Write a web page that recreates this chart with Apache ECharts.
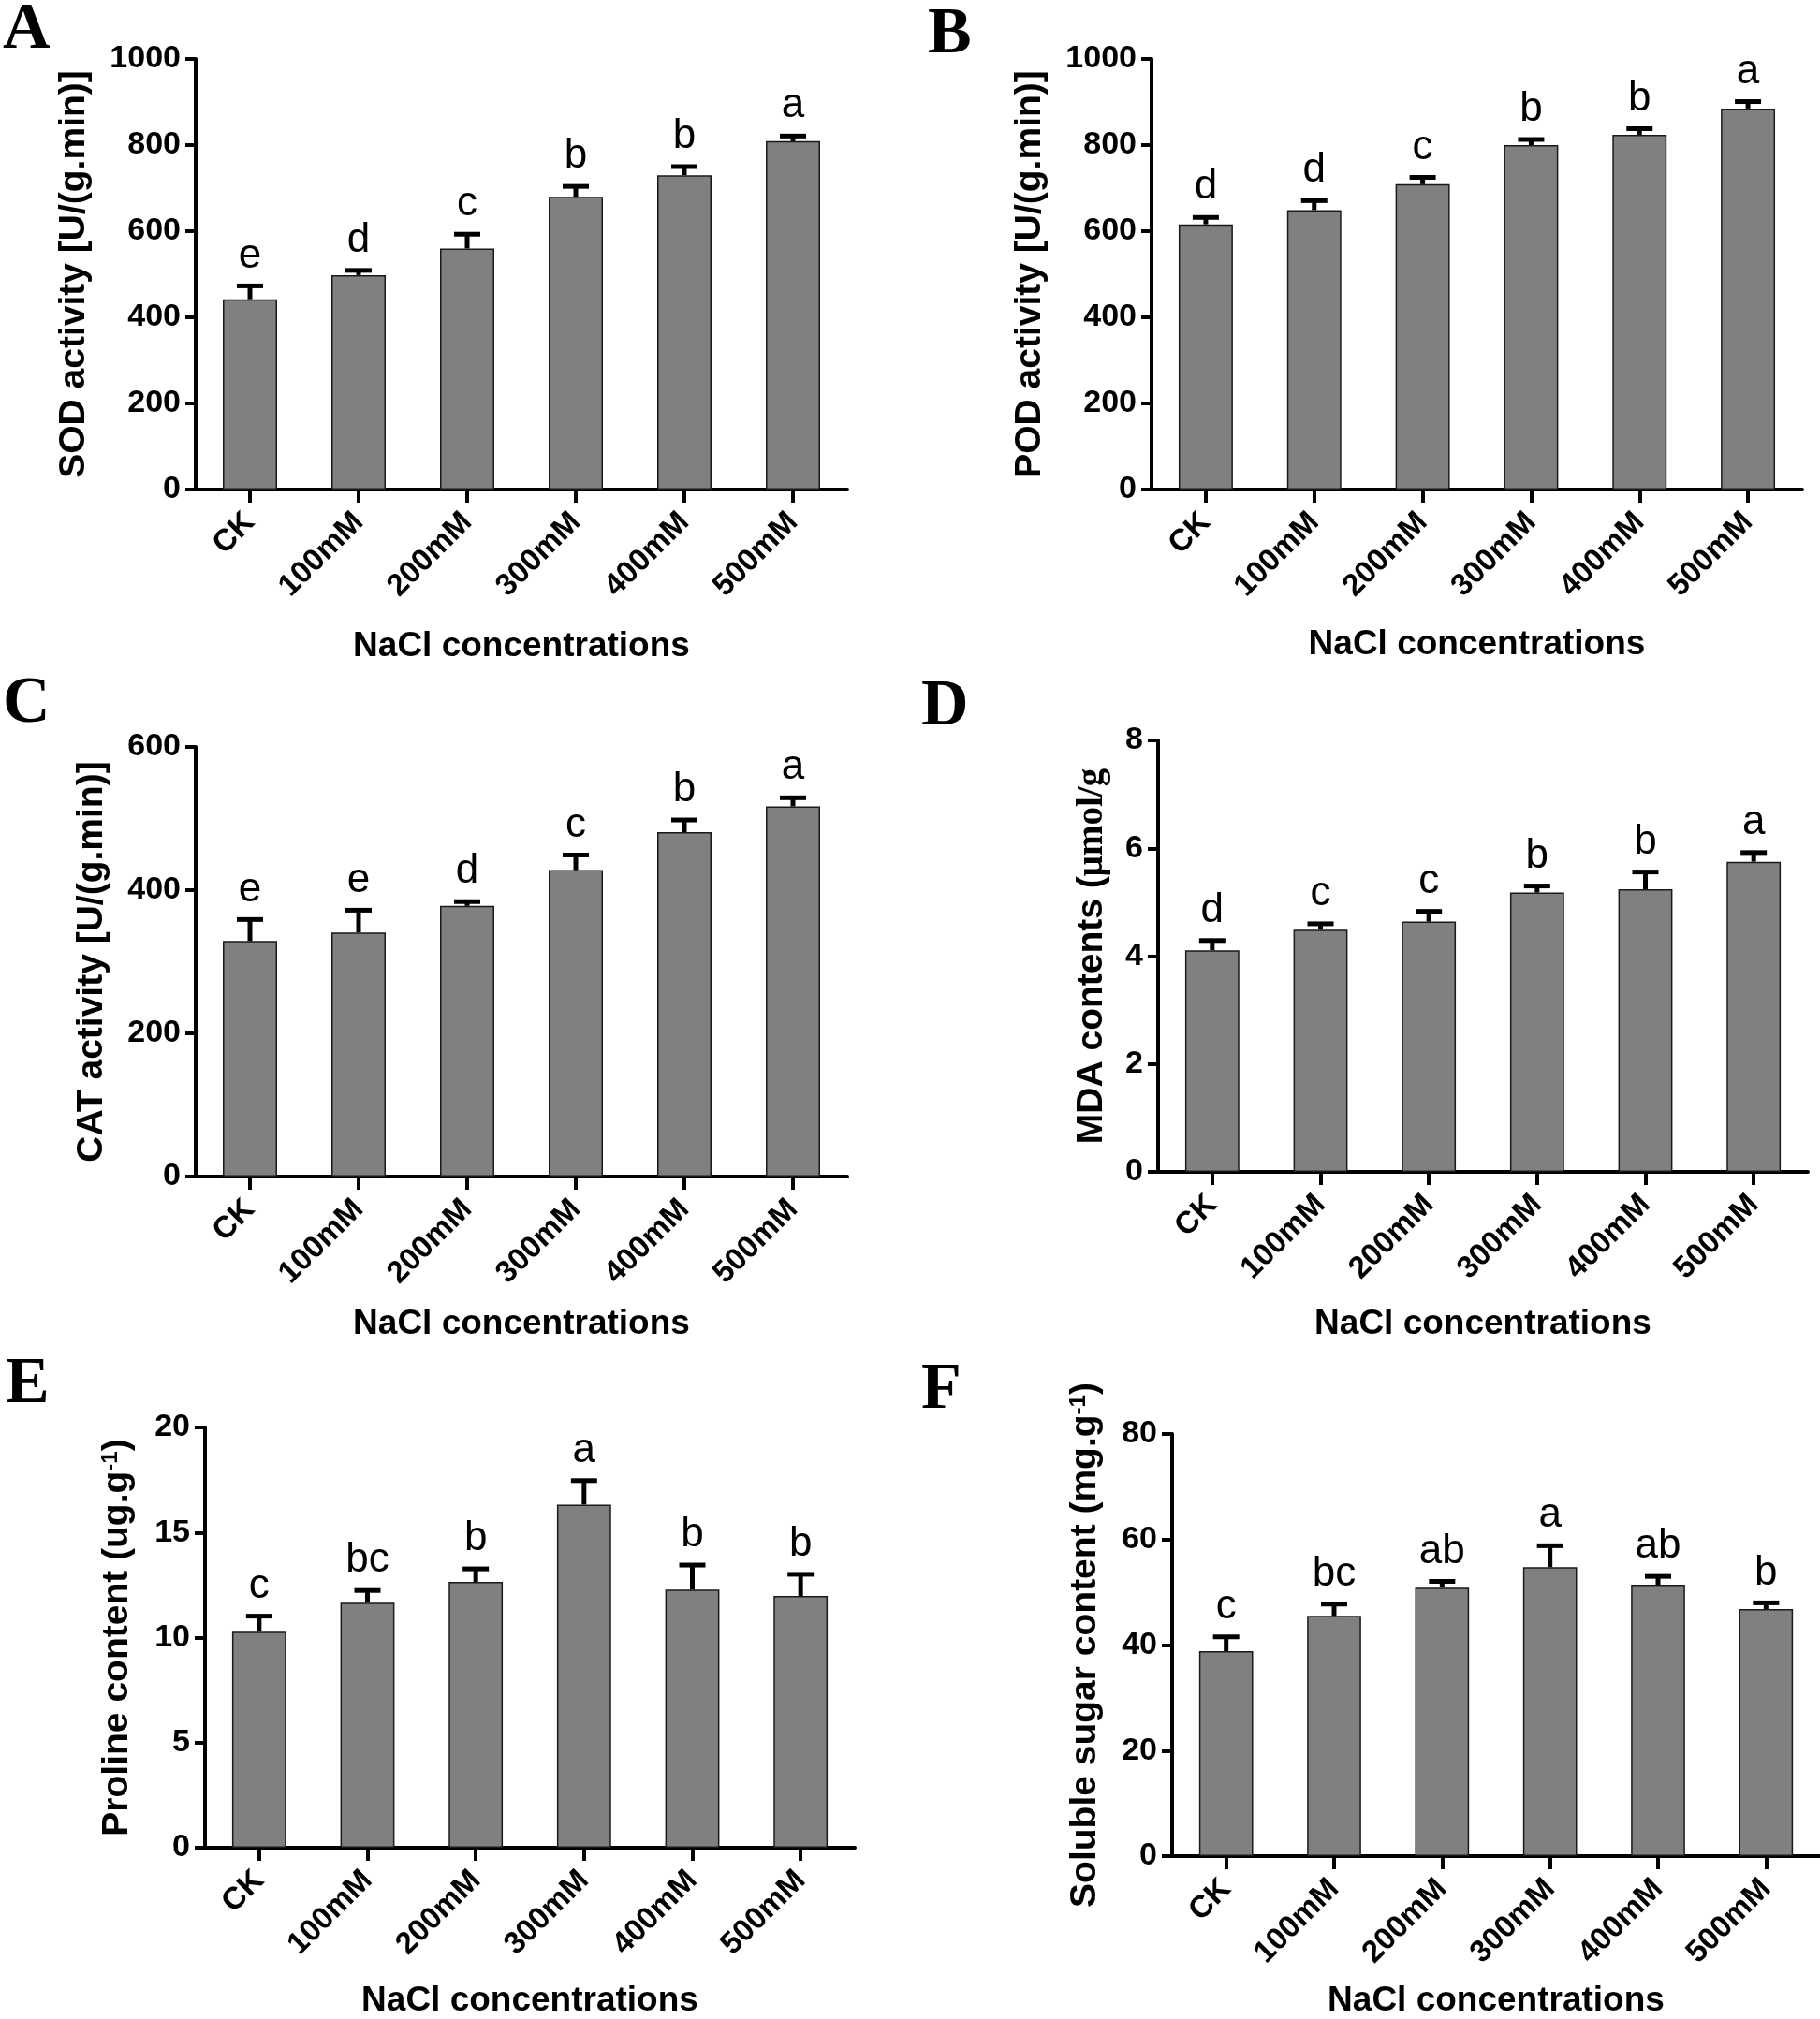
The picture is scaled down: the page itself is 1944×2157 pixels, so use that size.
<!DOCTYPE html>
<html><head><meta charset="utf-8">
<script src="https://cdn.jsdelivr.net/npm/echarts@6/dist/echarts.min.js"></script>
<style>html,body{margin:0;padding:0;background:#fff}#c{width:1944px;height:2157px}</style>
</head><body><div id="c"></div>
<script>
// ---------- data ----------
const categories = ['CK', '100mM', '200mM', '300mM', '400mM', '500mM'];

const sodValues  = [442, 498, 560, 680, 730, 809];
const sodErrors  = [31, 11, 33, 24, 20, 12];
const sodLetters = ['e', 'd', 'c', 'b', 'b', 'a'];

const podValues  = [616, 649, 709, 800, 824, 885];
const podErrors  = [16, 22, 16, 13, 14, 16];
const podLetters = ['d', 'd', 'c', 'b', 'b', 'a'];

const catValues  = [329, 341, 378, 428, 481, 517];
const catErrors  = [30, 31, 6, 21, 17, 12];
const catLetters = ['e', 'e', 'd', 'c', 'b', 'a'];

const mdaValues  = [4.11, 4.49, 4.64, 5.18, 5.24, 5.75];
const mdaErrors  = [0.18, 0.11, 0.19, 0.12, 0.32, 0.17];
const mdaLetters = ['d', 'c', 'c', 'b', 'b', 'a'];

const proValues  = [10.28, 11.66, 12.65, 16.33, 12.28, 11.98];
const proErrors  = [0.74, 0.58, 0.62, 1.14, 1.17, 1.03];
const proLetters = ['c', 'bc', 'b', 'a', 'b', 'b'];

const sugValues  = [38.85, 45.53, 50.87, 54.77, 51.42, 46.81];
const sugErrors  = [2.70, 2.23, 1.19, 4.06, 1.59, 1.19];
const sugLetters = ['c', 'bc', 'ab', 'a', 'ab', 'b'];

const xAxisTitle = 'NaCl concentrations';

// ---------- styling / layout ----------
const SANS = '"Liberation Sans", Arial, Helvetica, sans-serif';
const SERIF = '"Liberation Serif", "Times New Roman", serif';
const NAME_SIZE = 39;

const panels = [
  { tag: 'A', values: sodValues, errors: sodErrors, letters: sodLetters, max: 1000, interval: 200,
    yName: 'SOD activity [U/(g.min)]',
    grid: { left: 209, top: 63, width: 696, height: 460 }, yGap: 110, xGap: 149, tagPos: [3, 33] },
  { tag: 'B', values: podValues, errors: podErrors, letters: podLetters, max: 1000, interval: 200,
    yName: 'POD activity [U/(g.min)]',
    grid: { left: 1230, top: 63, width: 695, height: 460 }, yGap: 110, xGap: 147, tagPos: [991, 38] },
  { tag: 'C', values: catValues, errors: catErrors, letters: catLetters, max: 600, interval: 200,
    yName: 'CAT activity [U/(g.min)]',
    grid: { left: 209, top: 798, width: 696, height: 459 }, yGap: 91, xGap: 139, tagPos: [3, 753] },
  { tag: 'D', values: mdaValues, errors: mdaErrors, letters: mdaLetters, max: 8, interval: 2,
    yName: '{s|MDA contents (}{m|\u03bcmol/g}',
    grid: { left: 1237, top: 791, width: 694, height: 461 }, yGap: 51, xGap: 144, tagPos: [984, 756] },
  { tag: 'E', values: proValues, errors: proErrors, letters: proLetters, max: 20, interval: 5,
    yName: '{s|Proline content (ug.g}{sup|-1}{s|)}',
    grid: { left: 219, top: 1525, width: 694, height: 460 }, yGap: 74, xGap: 145, tagPos: [6, 1480] },
  { tag: 'F', values: sugValues, errors: sugErrors, letters: sugLetters, max: 80, interval: 20,
    yName: '{s|Soluble sugar content (mg.g}{sup|-1}{s|)}',
    grid: { left: 1252, top: 1532, width: 692, height: 462 }, yGap: 73, xGap: 136, tagPos: [984, 1486] }
];

const nameRich = {
  s: { fontFamily: SANS, fontWeight: 'bold', fontSize: NAME_SIZE, color: '#000' },
  m: { fontFamily: SERIF, fontWeight: 'bold', fontSize: NAME_SIZE, color: '#000' },
  sup: { fontFamily: SANS, fontWeight: 'bold', fontSize: 24, color: '#000', verticalAlign: 'top' }
};

function errRender(letters) {
  return function (params, api) {
    const i = api.value(0), top = api.value(1), base = api.value(2);
    const p0 = api.coord([i, base]);
    const p1 = api.coord([i, top]);
    const half = 14;
    return {
      type: 'group',
      children: [
        { type: 'line', shape: { x1: p0[0], y1: p0[1], x2: p1[0], y2: p1[1] },
          style: { stroke: '#000', lineWidth: 5 } },
        { type: 'line', shape: { x1: p1[0] - half, y1: p1[1], x2: p1[0] + half, y2: p1[1] },
          style: { stroke: '#000', lineWidth: 5 } },
        { type: 'text', x: p1[0], y: p1[1] - 10,
          style: { text: letters[params.dataIndex], fill: '#000', fontSize: 44, fontFamily: SANS,
                   align: 'center', verticalAlign: 'bottom' } }
      ]
    };
  };
}

const grids = [], xAxes = [], yAxes = [], series = [], graphics = [];
panels.forEach((p, k) => {
  grids.push(Object.assign({ containLabel: false }, p.grid));
  xAxes.push({
    type: 'category', gridIndex: k, data: categories,
    name: xAxisTitle, nameLocation: 'middle', nameGap: p.xGap,
    nameTextStyle: { fontFamily: SANS, fontWeight: 'bold', fontSize: 37, color: '#000' },
    axisLine: { show: true, lineStyle: { color: '#000', width: 4 } },
    axisTick: { show: true, alignWithLabel: true, length: 14, lineStyle: { color: '#000', width: 4 } },
    axisLabel: { interval: 0, rotate: 45, margin: 30, fontFamily: SANS, fontWeight: 'bold', fontSize: 33, color: '#000' },
    splitLine: { show: false }
  });
  yAxes.push({
    type: 'value', gridIndex: k, min: 0, max: p.max, interval: p.interval,
    name: p.yName, nameLocation: 'middle', nameGap: p.yGap, nameRotate: 90,
    nameMoveOverlap: false,
    nameTextStyle: { fontFamily: SANS, fontWeight: 'bold', fontSize: NAME_SIZE, color: '#000', rich: nameRich },
    axisLine: { show: true, lineStyle: { color: '#000', width: 4 } },
    axisTick: { show: true, length: 11, lineStyle: { color: '#000', width: 4 } },
    axisLabel: { margin: 16, fontFamily: SANS, fontWeight: 'bold', fontSize: 34, color: '#000',
                 formatter: v => String(v) },
    splitLine: { show: false }
  });
  series.push({
    type: 'bar', xAxisIndex: k, yAxisIndex: k, data: p.values, barWidth: '50%',
    itemStyle: { color: '#808080', borderColor: '#1a1a1a', borderWidth: 1.5 },
    silent: true, animation: false
  });
  series.push({
    type: 'custom', xAxisIndex: k, yAxisIndex: k, z: 5, silent: true, animation: false,
    renderItem: errRender(p.letters),
    data: p.values.map((v, i) => [i, v + p.errors[i], v])
  });
  graphics.push({
    type: 'text', x: p.tagPos[0], y: p.tagPos[1],
    style: { text: p.tag, fill: '#000', fontFamily: SERIF, fontWeight: 'bold', fontSize: 70,
             align: 'left', verticalAlign: 'middle' }
  });
});

const chart = echarts.init(document.getElementById('c'), null, { renderer: 'canvas' });
chart.setOption({
  backgroundColor: '#fff',
  animation: false,
  grid: grids, xAxis: xAxes, yAxis: yAxes, series: series, graphic: graphics
});
</script></body></html>
